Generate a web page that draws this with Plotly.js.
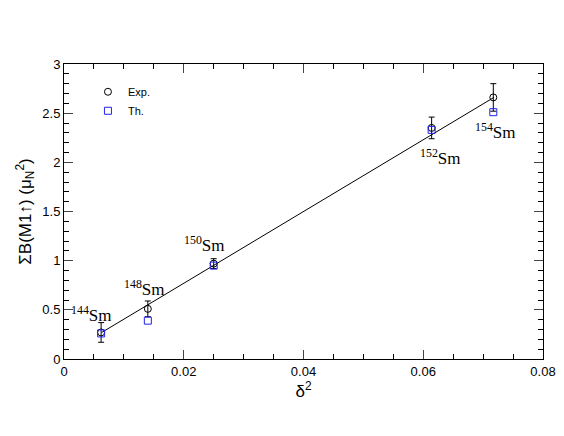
<!DOCTYPE html>
<html>
<head>
<meta charset="utf-8">
<script src="https://cdn.plot.ly/plotly-3.0.1.min.js"></script>
<style>
  html, body { margin: 0; padding: 0; background: white; }
  #plot { width: 564px; height: 436px; }
</style>
</head>
<body>
<div id="plot"></div>
<script>
// isotopes and delta^2 values
const isotopes = ["144", "148", "150", "152", "154"];
const delta2 = [0.0062, 0.0140, 0.0250, 0.0614, 0.0717];
const expB = [0.27, 0.51, 0.97, 2.35, 2.66];
const expErr = [0.10, 0.08, 0.05, 0.11, 0.14];
const thB = [0.26, 0.39, 0.95, 2.33, 2.51];
// linear fit line end points
const fitX = [0.0063, 0.0718];
const fitY = [0.27, 2.66];

// label positions in data units
const labelX = [0.0046, 0.0135, 0.0234, 0.0629, 0.0720];
const labelY = [0.46, 0.72, 1.17, 2.05, 2.32];

const data = [
    {
        x: fitX,
        y: fitY,
        type: "scatter",
        mode: "lines",
        line: { color: "black", width: 1 },
        showlegend: false,
        hoverinfo: "skip",
    },
    {
        x: delta2,
        y: expB,
        name: "Exp.",
        type: "scatter",
        mode: "markers",
        marker: { symbol: "circle-open", size: 7, color: "black", line: { width: 1 } },
        error_y: { type: "data", array: expErr, visible: true, color: "black", thickness: 1, width: 3 },
    },
    {
        x: delta2,
        y: thB,
        name: "Th.",
        type: "scatter",
        mode: "markers",
        marker: { symbol: "square-open", size: 7, color: "#2222ee", line: { width: 1 } },
    },
];

const annotations = isotopes.map((iso, i) => ({
    x: labelX[i],
    y: labelY[i],
    xref: "x",
    yref: "y",
    text: "<sup>" + iso + "</sup>Sm",
    showarrow: false,
    font: { family: "Liberation Serif", size: 17, color: "black" },
}));

const layout = {
    width: 564,
    height: 436,
    margin: { l: 64, r: 21, t: 64, b: 77 },
    paper_bgcolor: "white",
    plot_bgcolor: "white",
    font: { family: "Liberation Sans", color: "black" },
    showlegend: true,
    legend: {
        x: 0.05,
        y: 0.955,
        bgcolor: "rgba(0,0,0,0)",
        font: { size: 11 },
        itemwidth: 30,
        tracegroupgap: 0,
    },
    xaxis: {
        range: [0, 0.08],
        dtick: 0.02,
        ticks: "inside",
        ticklen: 9,
        showline: true,
        linecolor: "black",
        linewidth: 1,
        mirror: "ticks",
        showgrid: false,
        zeroline: false,
        tickfont: { size: 13 },
        minor: { dtick: 0.005, ticks: "inside", ticklen: 5, tickcolor: "black", showgrid: false },
        title: { text: "δ<sup>2</sup>", font: { size: 17 }, standoff: 5 },
    },
    yaxis: {
        range: [0, 3],
        dtick: 0.5,
        ticks: "inside",
        ticklen: 9,
        showline: true,
        linecolor: "black",
        linewidth: 1,
        mirror: "ticks",
        showgrid: false,
        zeroline: false,
        tickfont: { size: 13 },
        minor: { dtick: 0.1, ticks: "inside", ticklen: 5, tickcolor: "black", showgrid: false },
        title: { text: "ΣB(M1↑) (μ<sub>N</sub><sup>2</sup>)", font: { size: 17 }, standoff: 6 },
    },
    annotations: annotations,
};

Plotly.newPlot(document.getElementById("plot"), data, layout, { displayModeBar: false });
</script>
</body>
</html>
